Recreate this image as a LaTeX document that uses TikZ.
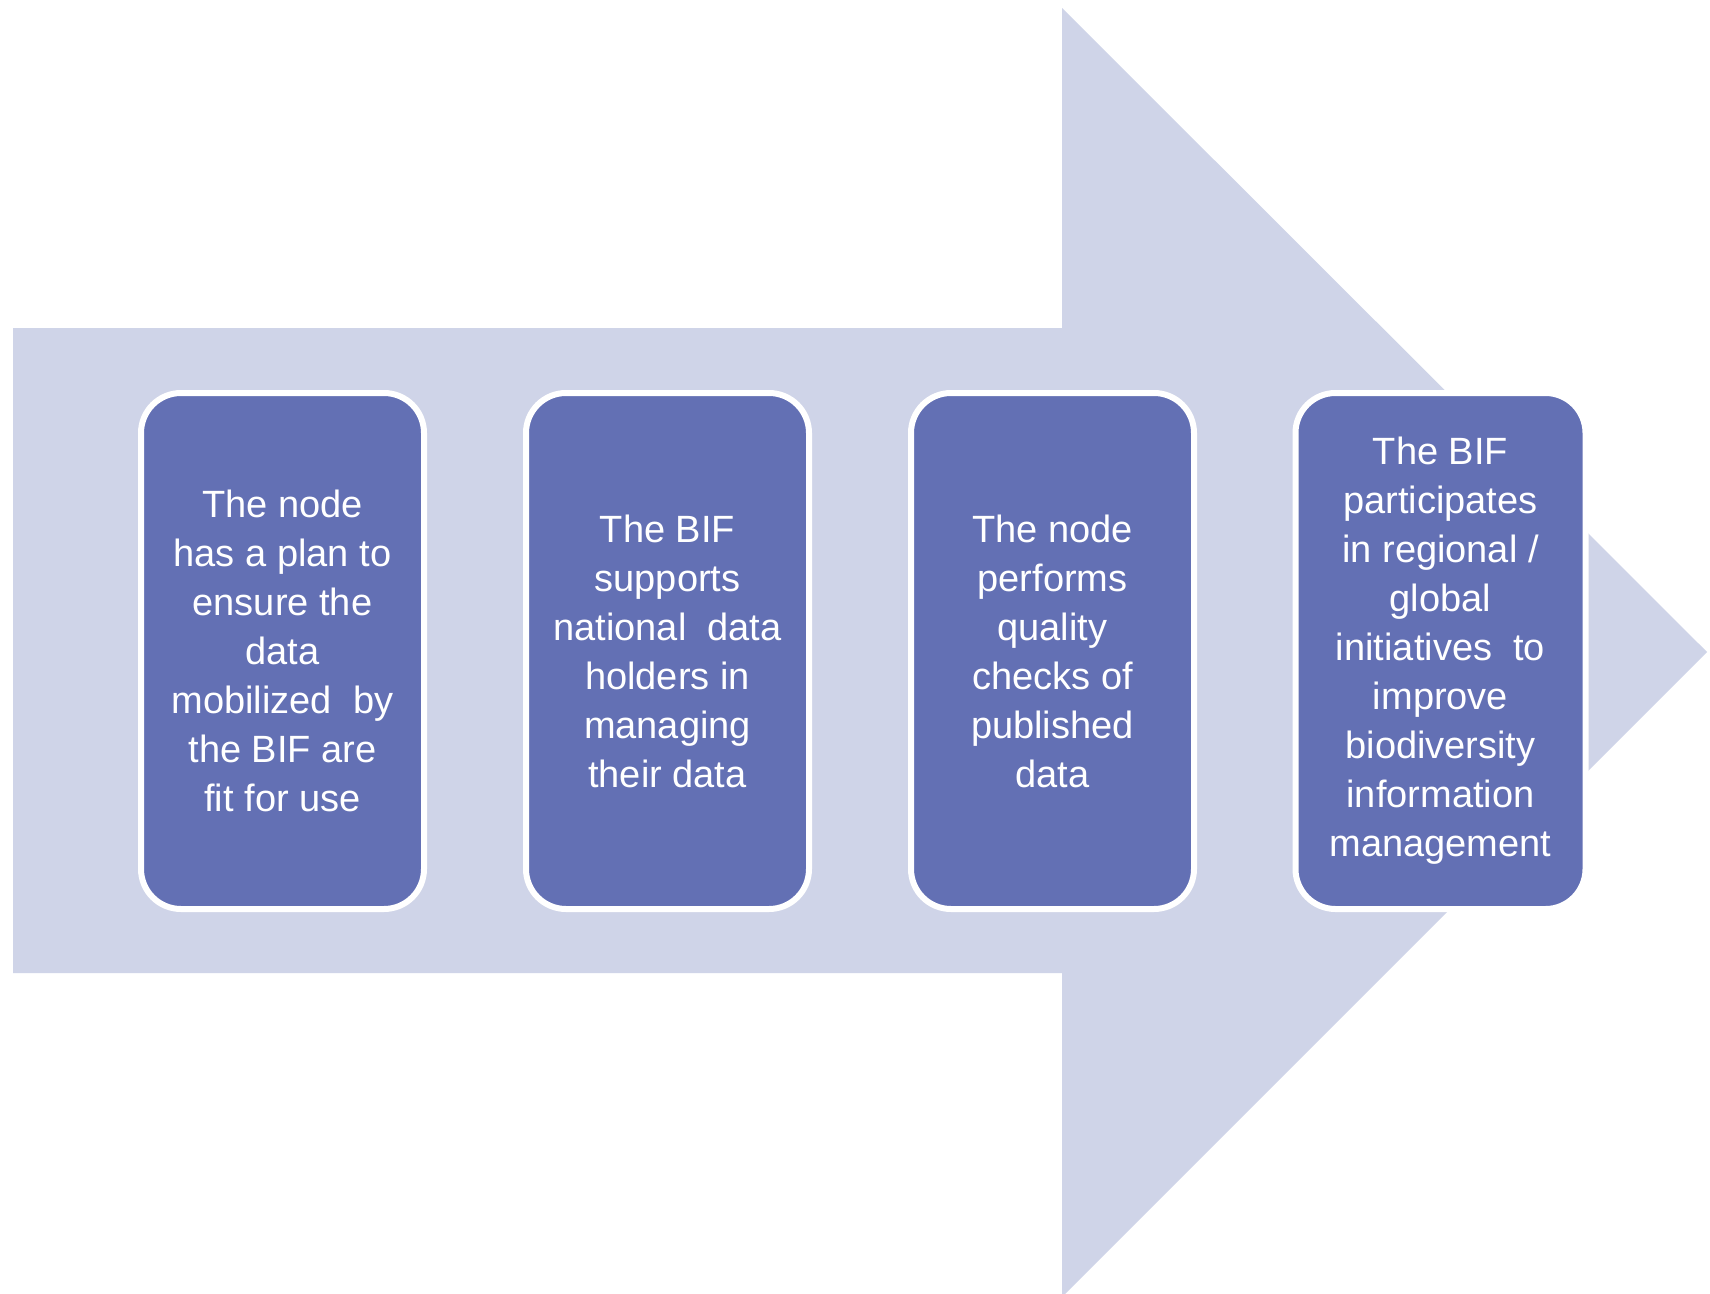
\documentclass[tikz,border=0pt]{standalone}
\usepackage{fontspec}
\setmainfont{Liberation Sans}
\definecolor{arrowfill}{RGB}{207,212,232}
\definecolor{boxfill}{RGB}{99,112,180}
\begin{document}
\begin{tikzpicture}[x=1pt,y=-1pt,
  stepbox/.style={draw=white, line width=6pt, fill=boxfill, rounded corners=40pt,
    minimum width=283pt, minimum height=516pt, inner sep=0pt, align=center,
    text=white, font=\fontsize{38}{49}\selectfont}]
\useasboundingbox (0,0) rectangle (1710,1293);
\fill[white] (0,0) rectangle (1710,1293);
\fill[arrowfill] (13,328) -- (1062,328) -- (1062,8) -- (1707,652) -- (1062,1297) -- (1062,973) -- (13,973) -- cycle;
\node[stepbox] (b1) at (282.5,651) {The node\\has a plan to\\ensure the\\data\\mobilized\ \ by\\the BIF are\\fit for use};
\node[stepbox] (b2) at (667.5,651) {The BIF\\supports\\national\ \ data\\holders in\\managing\\their data};
\node[stepbox] (b3) at (1052.5,651) {The node\\performs\\quality\\checks of\\published\\data};
\node[stepbox, minimum width=290pt] (b4) at (1440.5,651) {The BIF\\participates\\in regional /\\global\\initiatives\ \ to\\improve\\biodiversity\\information\\management};
\end{tikzpicture}
\end{document}
